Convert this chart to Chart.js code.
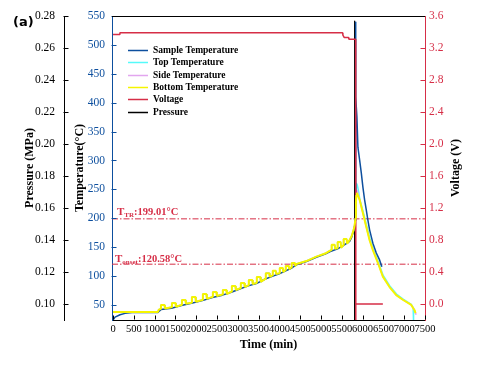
<!DOCTYPE html>
<html>
<head>
<meta charset="utf-8">
<script src="https://cdn.jsdelivr.net/npm/chart.js@4.4.0/dist/chart.umd.min.js"></script>
<style>
  html, body { margin: 0; padding: 0; background: #fff; }
  #wrap { width: 487px; height: 369px; position: relative; }
</style>
</head>
<body>
<div id="wrap"><canvas id="chart"></canvas></div>
<script>
// tick labels
const timeTicks = [0, 500, 1000, 1500, 2000, 2500, 3000, 3500, 4000, 4500, 5000, 5500, 6000, 6500, 7000, 7500];
const tempTicks = [50, 100, 150, 200, 250, 300, 350, 400, 450, 500, 550];
const pressureTicks = [0.10, 0.12, 0.14, 0.16, 0.18, 0.20, 0.22, 0.24, 0.26, 0.28];
const voltageTicks = [0.0, 0.4, 0.8, 1.2, 1.6, 2.0, 2.4, 2.8, 3.2, 3.6];

const seriesNames = ['Sample Temperature', 'Top Temperature', 'Side Temperature', 'Bottom Temperature', 'Voltage', 'Pressure'];

// [time (min), value]
const sampleTemp = [[0,24],[48,29],[168,33],[288,35.5],[456,37],[1080,37],[1104,39],[1152,42],[1404,44.5],[1644,49],
  [1884,53],[2148,57.5],[2388,63],[2628,67],[2844,72],[3060,78],[3252,83],[3444,87],[3660,95],[3828,99.5],[3996,104],
  [4140,108.5],[4284,113.5],[4392,119],[4650,125],[4888,132.5],[5100,138],[5208,142],[5400,147],[5544,153],[5688,160],
  [5736,167],[5784,178],[5808,186],[5825,196],[5828,540],[5840,410],[5863,375],[5887,323],[5928,301],[5969,278],[6007,254],
  [6048,232],[6089,214],[6127,197],[6168,180],[6247,157],[6329,140],[6408,128],[6463,116]];

// heating stage, the three thermocouples overlap here
const heatingStage = [[0,38],[1080,38],[1100,42],[1140,43],
  [1152,50],[1236,50],[1248,44],[1404,46],[1416,53.5],[1500,53.5],[1512,47],
  [1644,50],[1656,58.7],[1740,58.7],[1752,52],[1884,54],[1896,63.9],[1980,63.9],[1992,55.5],
  [2148,58.5],[2160,69],[2244,69],[2256,60.5],[2388,64],[2400,72.5],[2484,72.5],[2496,65.5],
  [2628,68],[2640,76],[2724,76],[2736,69],[2844,73],[2856,83],[2940,83],[2952,76],
  [3060,79],[3072,88],[3156,88],[3168,81],[3252,84],[3264,93],[3348,93],[3360,86],
  [3444,88],[3456,98.5],[3540,98.5],[3552,90],[3660,95],[3672,105],[3756,105],[3768,98.5],
  [3828,101],[3840,109],[3912,109],[3924,103.5],[3996,105],[4008,114],[4080,114],[4092,107],
  [4140,110],[4152,117.5],[4224,117.5],[4236,112],[4284,115],[4296,122.7],[4368,122.7],[4380,118],
  [4392,120.5],[4650,126],[4888,133.6],[5100,139],[5208,143.5],
  [5244,145],[5256,154],[5328,154],[5340,147],[5388,148],[5400,159],[5472,159],[5484,149],
  [5532,153],[5544,164],[5616,164],[5628,156],[5688,162.5],[5736,169],[5784,180],[5808,188],[5830,200]];

const bottomCooling = [[5840,228],[5849,240],[5863,244],[5928,232],[6007,209],[6089,185],[6168,162],[6247,145],
  [6367,123],[6487,99],[6648,81],[6809,67],[6967,59],[7169,50],[7248,41],[7272,36]];
const topCooling = [[5840,240],[5849,261],[5870,258],[5900,248],[5935,232],[6015,211],[6095,188],[6175,165],
  [6255,147],[6375,125],[6495,101],[6655,83],[6815,69],[6975,60],[7170,51],[7215,45],[7224,40],[7226,20]];
const sideCooling = [[5840,236],[5849,249],[5875,247],[5930,232],[6009,209],[6090,185],[6170,162],[6250,145],
  [6370,123],[6490,99],[6650,81],[6812,67],[6970,59],[7172,50],[7252,41],[7278,35],[7285,33]];

const voltage = [[0,3.37],[150,3.37],[165,3.39],[5520,3.39],[5526,3.36],[5560,3.33],[5664,3.33],[5670,3.31],
  [5832,3.31],[5834,-0.3],[5838,0],[6487,0]];
const pressure = [[0,0.08],[5800,0.08],[5806,0.277],[5812,0.08],[7500,0.08]];

const trTemp = 199.01;
const onsetTemp = 120.58;

const serif = 'Liberation Serif';
const blue = '#0d4f9e';
const cyan = '#55fafa';
const pink = '#e2a6ef';
const yellow = '#f5f500';
const red = '#d62e47';

const pts = arr => arr.map(p => ({ x: p[0], y: p[1] }));

const inwardTicks = {
  id: 'inwardTicks',
  afterDraw(chart) {
    const ctx = chart.ctx;
    ctx.save();
    ctx.lineWidth = 1;
    ['yP', 'yT', 'yV'].forEach(id => {
      const s = chart.scales[id];
      const right = id === 'yV';
      const x0 = right ? Math.round(s.left) + 0.5 : Math.round(s.right) - 0.5;
      ctx.strokeStyle = s.options.border.color;
      s.ticks.forEach(t => {
        const y = Math.round(s.getPixelForValue(t.value)) + 0.5;
        ctx.beginPath();
        ctx.moveTo(x0, y);
        ctx.lineTo(x0 + (right ? -5 : 5), y);
        ctx.stroke();
      });
    });
    const sx = chart.scales.x;
    const yb = Math.round(chart.chartArea.bottom) - 0.5;
    ctx.strokeStyle = '#000';
    sx.ticks.forEach(t => {
      const x = Math.round(sx.getPixelForValue(t.value)) + 0.5;
      ctx.beginPath();
      ctx.moveTo(x, yb);
      ctx.lineTo(x, yb - 4);
      ctx.stroke();
    });
    ctx.restore();
  }
};

const extras = {
  id: 'extras',
  afterDraw(chart) {
    const { ctx, chartArea: a, scales } = chart;
    ctx.save();
    // top frame line
    ctx.strokeStyle = '#000';
    ctx.lineWidth = 1;
    ctx.beginPath();
    ctx.moveTo(a.left, Math.round(a.top) + 0.5);
    ctx.lineTo(a.right, Math.round(a.top) + 0.5);
    ctx.stroke();

    // legend
    ctx.textBaseline = 'middle';
    ctx.textAlign = 'left';
    seriesNames.forEach((name, i) => {
      const ds = chart.data.datasets[i];
      const y = Math.round(50 + i * 12.3) + 0.5;
      ctx.strokeStyle = ds.borderColor;
      ctx.lineWidth = 1.5;
      ctx.beginPath();
      ctx.moveTo(128, y);
      ctx.lineTo(148, y);
      ctx.stroke();
      ctx.fillStyle = '#000';
      ctx.font = 'bold 9.5px "' + serif + '"';
      ctx.fillText(name, 153, y);
    });

    // reference line labels
    ctx.textBaseline = 'alphabetic';
    ctx.fillStyle = red;
    const refLabel = (x, yBase, sub, rest) => {
      ctx.font = 'bold 11px "' + serif + '"';
      ctx.fillText('T', x, yBase);
      x += ctx.measureText('T').width;
      ctx.font = 'bold 7px "' + serif + '"';
      ctx.fillText(sub, x, yBase + 2);
      x += ctx.measureText(sub).width;
      ctx.font = 'bold 10.5px "' + serif + '"';
      ctx.fillText(rest, x, yBase);
    };
    const yT = scales.yT;
    refLabel(a.left + 5, yT.getPixelForValue(trTemp) - 4, 'TR', ':' + trTemp.toFixed(2) + '°C');
    refLabel(a.left + 3, yT.getPixelForValue(onsetTemp) - 2.5, 'onset', ':' + onsetTemp.toFixed(2) + '°C');

    // right axis title (reads bottom to top)
    ctx.fillStyle = '#000';
    ctx.font = 'bold 12px "' + serif + '"';
    ctx.translate(456, (a.top + a.bottom) / 2);
    ctx.rotate(-Math.PI / 2);
    ctx.textAlign = 'center';
    ctx.textBaseline = 'middle';
    ctx.fillText('Voltage (V)', 0, 0);
    ctx.restore();

    // panel letter
    ctx.save();
    ctx.fillStyle = '#000';
    ctx.font = 'bold 13px "DejaVu Sans"';
    ctx.textBaseline = 'alphabetic';
    ctx.fillText('(a)', 13, 26);
    ctx.restore();
  }
};

const tickFont = { family: serif, size: 11.5 };
const titleFont = { family: serif, size: 12, weight: 'bold' };

new Chart(document.getElementById('chart'), {
  type: 'line',
  data: {
    datasets: [
      { label: seriesNames[0], data: pts(sampleTemp), borderColor: blue, borderWidth: 1.5, yAxisID: 'yT', order: 6 },
      { label: seriesNames[1], data: pts(heatingStage.concat(topCooling)), borderColor: cyan, borderWidth: 1.5, yAxisID: 'yT', order: 8 },
      { label: seriesNames[2], data: pts(heatingStage.concat(sideCooling)), borderColor: pink, borderWidth: 1.5, yAxisID: 'yT', order: 7 },
      { label: seriesNames[3], data: pts(heatingStage.concat(bottomCooling)), borderColor: yellow, borderWidth: 2, yAxisID: 'yT', order: 3 },
      { label: seriesNames[4], data: pts(voltage), borderColor: red, borderWidth: 1.5, yAxisID: 'yV', order: 5 },
      { label: seriesNames[5], data: pts(pressure), borderColor: '#000', borderWidth: 1, yAxisID: 'yP', order: 9 },
      { label: '', data: pts([[-25, trTemp], [7500, trTemp]]), borderColor: red, borderWidth: 1, borderDash: [6, 2, 1.5, 2], yAxisID: 'yT', order: 10 },
      { label: '', data: pts([[-25, onsetTemp], [7500, onsetTemp]]), borderColor: red, borderWidth: 1, borderDash: [6, 2, 1.5, 2], yAxisID: 'yT', order: 10 }
    ]
  },
  options: {
    animation: false,
    responsive: true,
    maintainAspectRatio: false,
    devicePixelRatio: 1,
    layout: { padding: { top: 16, right: 0, bottom: 0, left: 0 } },
    elements: {
      point: { radius: 0 },
      line: { tension: 0, borderJoinStyle: 'bevel' }
    },
    plugins: {
      legend: { display: false },
      tooltip: { enabled: false }
    },
    scales: {
      x: {
        type: 'linear', min: -25, max: 7500,
        grid: { display: false, drawTicks: false },
        border: { color: '#000', width: 1 },
        afterBuildTicks: s => { s.ticks = timeTicks.map(v => ({ value: v })); },
        afterFit: s => { s.height = 49; },
        ticks: { autoSkip: false, maxRotation: 0, minRotation: 0, padding: 3, color: '#000',
          font: { family: serif, size: 10.5 }, callback: v => String(v) },
        title: { display: true, text: 'Time (min)', color: '#000', font: titleFont, padding: { top: 0, bottom: 17 } }
      },
      yP: {
        type: 'linear', position: 'left', weight: 1, min: 0.09, max: 0.28,
        grid: { display: false, drawTicks: false },
        border: { color: '#000', width: 1 },
        afterBuildTicks: s => { s.ticks = pressureTicks.map(v => ({ value: v })); },
        afterFit: s => { s.width = 64; },
        ticks: { padding: 9, color: '#000', font: tickFont, callback: v => v.toFixed(2) },
        title: { display: true, text: 'Pressure (MPa)', color: '#000', font: titleFont, padding: { top: 23, bottom: 0 } }
      },
      yT: {
        type: 'linear', position: 'left', weight: 0, min: 24, max: 550,
        grid: { display: false, drawTicks: false },
        border: { color: blue, width: 1 },
        afterBuildTicks: s => { s.ticks = tempTicks.map(v => ({ value: v })); },
        afterFit: s => { s.width = 48; },
        ticks: { padding: 7, color: blue, font: tickFont, callback: v => String(v) },
        title: { display: true, text: 'Temperature(°C)', color: '#000', font: titleFont, padding: { top: 9, bottom: 0 } }
      },
      yV: {
        type: 'linear', position: 'right', min: -0.2, max: 3.6,
        grid: { display: false, drawTicks: false },
        border: { color: red, width: 1 },
        afterBuildTicks: s => { s.ticks = voltageTicks.map(v => ({ value: v })); },
        afterFit: s => { s.width = 62; },
        ticks: { padding: 4, color: red, font: tickFont, callback: v => v.toFixed(1) }
      }
    }
  },
  plugins: [inwardTicks, extras]
});
</script>
</body>
</html>
